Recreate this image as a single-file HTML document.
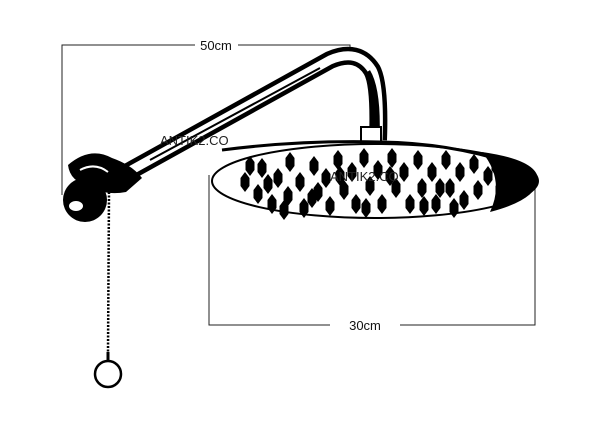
<!DOCTYPE html>
<html><head><meta charset="utf-8"><style>
html,body{margin:0;padding:0;background:#fff;}
svg{display:block}
text{font-family:"Liberation Sans",sans-serif;}
</style></head><body>
<svg width="600" height="440" viewBox="0 0 600 440" xmlns="http://www.w3.org/2000/svg">
<defs>
<path id="n" d="M0,-10 L4.5,-4 L4.5,4 L0,10 L-4.5,4 L-4.5,-4Z" fill="#000"/>
</defs>
<rect width="600" height="440" fill="#fff"/>
<g stroke="#222" stroke-width="1" fill="none">
<path d="M62,195 V45 H195 M238,45 H350 V55"/>
<path d="M209,175 V325 H330 M400,325 H535 V185"/>
</g>
<text x="216" y="50" font-size="13" text-anchor="middle" fill="#111">50cm</text>
<text x="365" y="330" font-size="13" text-anchor="middle" fill="#111">30cm</text>
<!-- arm -->
<path d="M128,172 L330,60 Q358,48 372,70 Q380,85 378,140" fill="none" stroke="#000" stroke-width="18" stroke-linejoin="round"/>
<path d="M128,172 L330,60 Q358,48 372,70 Q380,85 378,140" fill="none" stroke="#fff" stroke-width="9"/>
<path d="M367,72 Q378,90 376,140" fill="none" stroke="#000" stroke-width="7"/>
<path d="M150,160 L320,68" stroke="#000" stroke-width="2"/>
<rect x="361" y="127" width="20" height="16" fill="#fff" stroke="#000" stroke-width="2"/>
<!-- wall mount -->
<ellipse cx="85" cy="200" rx="22" ry="22" fill="#000"/>
<path d="M68,165 Q90,146 112,158 Q132,165 142,178 L126,192 Q105,196 90,186 Q70,182 68,165Z" fill="#000"/>
<path d="M80,170 Q95,162 108,172" fill="none" stroke="#fff" stroke-width="2"/>
<ellipse cx="76" cy="206" rx="7" ry="5" fill="#fff"/>
<!-- chain -->
<line x1="109" y1="192" x2="108" y2="352" stroke="#000" stroke-width="2.5" stroke-dasharray="2 1.5"/>
<circle cx="108" cy="374" r="13" fill="none" stroke="#000" stroke-width="2.5"/>
<line x1="108" y1="352" x2="108" y2="361" stroke="#000" stroke-width="3"/>
<!-- shower head -->
<ellipse cx="375" cy="181" rx="163" ry="37" fill="#fff" stroke="#000" stroke-width="2"/>
<path d="M482,152 Q538,160 538,180 Q536,200 490,212 Q505,180 482,152Z" fill="#000"/>
<path d="M222,150 Q300,140 380,142 Q460,143 530,170" fill="none" stroke="#000" stroke-width="3"/>
<g>
<use href="#n" x="245" y="182"/><use href="#n" x="262" y="168"/><use href="#n" x="258" y="194"/><use href="#n" x="272" y="204"/>
<use href="#n" x="278" y="178"/><use href="#n" x="290" y="162"/><use href="#n" x="288" y="196"/><use href="#n" x="300" y="182"/>
<use href="#n" x="304" y="208"/><use href="#n" x="314" y="166"/><use href="#n" x="318" y="192"/><use href="#n" x="326" y="178"/>
<use href="#n" x="330" y="206"/><use href="#n" x="338" y="160"/><use href="#n" x="344" y="190"/><use href="#n" x="352" y="172"/>
<use href="#n" x="356" y="204"/><use href="#n" x="364" y="158"/><use href="#n" x="370" y="186"/><use href="#n" x="378" y="170"/>
<use href="#n" x="382" y="204"/><use href="#n" x="392" y="158"/><use href="#n" x="396" y="188"/><use href="#n" x="404" y="172"/>
<use href="#n" x="410" y="204"/><use href="#n" x="418" y="160"/><use href="#n" x="422" y="188"/><use href="#n" x="432" y="172"/>
<use href="#n" x="436" y="204"/><use href="#n" x="446" y="160"/><use href="#n" x="450" y="188"/><use href="#n" x="460" y="172"/>
<use href="#n" x="464" y="200"/><use href="#n" x="474" y="164"/><use href="#n" x="478" y="190"/><use href="#n" x="488" y="176"/>
<use href="#n" x="500" y="190"/><use href="#n" x="496" y="166"/><use href="#n" x="268" y="184"/><use href="#n" x="312" y="198"/>
<use href="#n" x="250" y="166"/><use href="#n" x="284" y="210"/><use href="#n" x="340" y="176"/><use href="#n" x="366" y="208"/>
<use href="#n" x="390" y="176"/><use href="#n" x="424" y="206"/><use href="#n" x="454" y="208"/><use href="#n" x="440" y="188"/>
</g>
<text x="160" y="145" font-size="13" fill="#222">ANTIK2.CO</text>
<text x="330" y="181" font-size="13" fill="#222">ANTIK2.CO</text>
</svg>
</body></html>
